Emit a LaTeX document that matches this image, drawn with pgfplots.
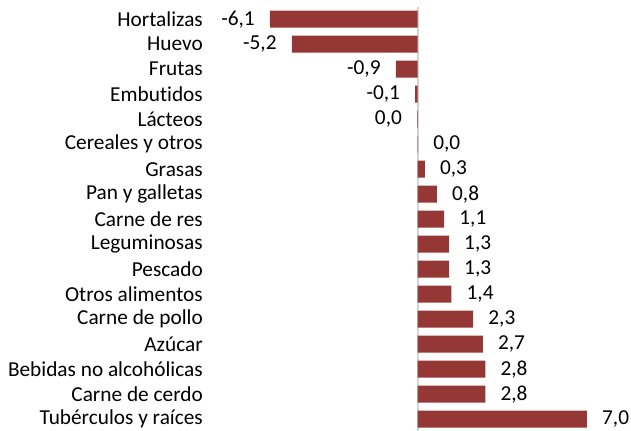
\documentclass[border=0pt]{standalone}
\usepackage{fontspec}
\setmainfont{Carlito}[Ligatures=NoCommon]
\usepackage{pgfplots}
\pgfplotsset{compat=1.18}
\usepackage{pgfplotstable}
\definecolor{barred}{HTML}{953735}
\definecolor{zeroline}{HTML}{D4D4D4}
\newcommand{\lblfont}{\fontsize{21.3bp}{25bp}\selectfont}

\pgfplotstableread{
y x label
16 -6.1 -6,1
15 -5.2 -5,2
14 -0.9 -0,9
13 -0.1 -0,1
12 -0.02 0,0
}\negtable

\pgfplotstableread{
y x label
11 0.02 0,0
10 0.3 0,3
9 0.8 0,8
8 1.1 1,1
7 1.3 1,3
6 1.3 1,3
5 1.4 1,4
4 2.3 2,3
3 2.7 2,7
2 2.8 2,8
1 2.8 2,8
0 7.0 7,0
}\postable

\begin{document}
\lblfont
\begin{tikzpicture}
\begin{axis}[
  scale only axis,
  width=422bp, height=424bp,
  xmin=-8.62, xmax=8.82,
  ymin=-0.47, ymax=16.49,
  clip=false,
  axis line style={draw=none},
  xtick=\empty,
  ytick={0,...,16},
  yticklabels={Tubérculos y raíces, Carne de cerdo, Bebidas no alcohólicas, Azúcar, Carne de pollo, Otros alimentos, Pescado, Leguminosas, Carne de res, Pan y galletas, Grasas, Cereales y otros, Lácteos, Embutidos, Frutas, Huevo, Hortalizas},
  major tick length=0pt,
  y tick label style={anchor=east, inner sep=0pt, xshift=-6bp, font=\lblfont},
  extra x ticks={0},
  extra x tick labels={},
  extra x tick style={grid=major, major grid style={draw=zeroline, line width=2bp}},
]
\addplot[xbar, fill=barred, draw=none, bar width=17bp, bar shift=0pt,
  nodes near coords, point meta=explicit symbolic,
  every node near coord/.append style={anchor=east, inner sep=0pt, xshift=-15bp, font=\lblfont, text=black}]
  table[x=x, y=y, meta=label]{\negtable};
\addplot[xbar, fill=barred, draw=none, bar width=17bp, bar shift=0pt,
  nodes near coords, point meta=explicit symbolic,
  every node near coord/.append style={anchor=west, inner sep=0pt, xshift=15bp, font=\lblfont, text=black}]
  table[x=x, y=y, meta=label]{\postable};
\end{axis}
\pgfresetboundingbox
\path (current axis.south west) ++(-209bp,0) rectangle ++(631bp,431bp);
\end{tikzpicture}
\end{document}
